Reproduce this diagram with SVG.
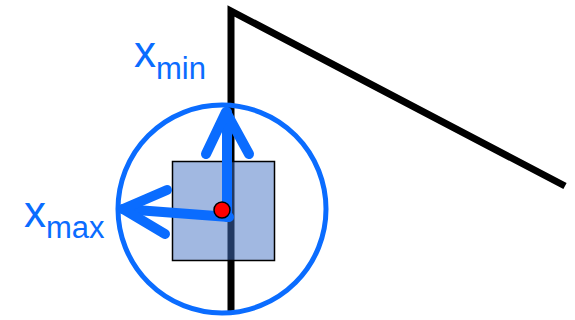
<svg xmlns="http://www.w3.org/2000/svg" width="575" height="320" viewBox="0 0 575 320">
<style>
.lbl{font-family:"Liberation Sans",Arial,sans-serif;fill:#0A6CFF}
.blue{fill:none;stroke:#0A6CFF;stroke-width:10;stroke-linecap:round;stroke-linejoin:round}
</style>
<rect width="575" height="320" fill="#ffffff"/>
<g id="wall">
<polyline points="231,312 231,11 565,186" fill="none" stroke="#000" stroke-width="7" stroke-linejoin="miter"/>
</g>
<g id="circle">
<circle cx="222" cy="209" r="104" fill="none" stroke="#0A6CFF" stroke-width="5"/>
</g>
<g id="box">
<rect x="172.5" y="161.5" width="102" height="99" fill="#4472C4" fill-opacity="0.5" stroke="#000" stroke-width="1.5"/>
</g>
<g id="connectors">
<polyline class="blue" points="227,217 227,112"/>
<polyline class="blue" points="206,154 226,112 249,154"/>
<polyline class="blue" points="229,217 123,209"/>
<polyline class="blue" points="167,190 123,209 165,234"/>
</g>
<g id="dot">
<circle cx="222" cy="210" r="8" fill="#FF0000" stroke="#000" stroke-width="1.5"/>
</g>
<g id="xmin">
<text class="lbl" x="134" y="67" font-size="44">x<tspan font-size="31" y="79">min</tspan></text>
</g>
<g id="xmax">
<text class="lbl" x="24" y="227" font-size="44">x<tspan font-size="31" y="238">max</tspan></text>
</g>
</svg>
